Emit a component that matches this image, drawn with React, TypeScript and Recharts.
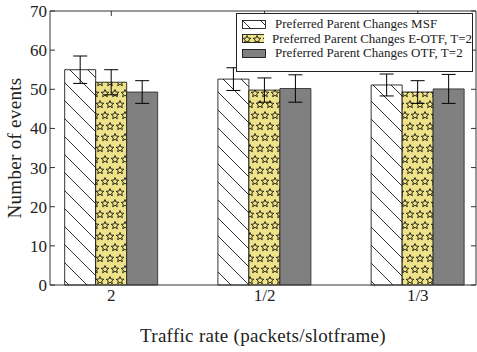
import { BarChart, Bar, XAxis, YAxis, ErrorBar } from 'recharts'

const categories = ['2', '1/2', '1/3']
const positions = [1, 2, 3]
const msf = [55.0, 52.6, 51.1]
const msfErr = [3.5, 2.9, 2.8]
const eotf = [51.8, 49.8, 49.3]
const eotfErr = [3.2, 3.1, 2.9]
const otf = [49.3, 50.2, 50.1]
const otfErr = [2.9, 3.5, 3.7]
const yTicks = [0, 10, 20, 30, 40, 50, 60, 70]

const seriesNames = [
    'Preferred Parent Changes MSF',
    'Preferred Parent Changes E-OTF, T=2',
    'Preferred Parent Changes OTF, T=2',
]
const fills = ['url(#hatch)', 'url(#stars)', '#808080']

const data = positions.map((x, i) => ({
    x,
    msf: msf[i],
    msfErr: msfErr[i],
    eotf: eotf[i],
    eotfErr: eotfErr[i],
    otf: otf[i],
    otfErr: otfErr[i],
}))

const FONT = '"Liberation Serif", "DejaVu Serif", serif'
const AXIS = '#333'
const TEXT = '#222'
const X_DOMAIN: [number, number] = [0.6, 3.38]
const TICK_SIZE = 6
const TICK_MARGIN = 3
const TICK_LEN = 5
const noLabel = () => <g />

// left axis label + a short tick pointing into the plot
const LeftTick = (props: any) => {
    const { x, y, payload } = props
    const axisX = x + TICK_SIZE + TICK_MARGIN
    return (
        <g>
            <line x1={axisX} x2={axisX + TICK_LEN} y1={y} y2={y} stroke={AXIS} />
            <text x={axisX - TICK_MARGIN} y={y} dy={6} textAnchor="end" fontSize={17} fill={TEXT} fontFamily={FONT}>
                {payload.value}
            </text>
        </g>
    )
}

const starPath = (cx: number, cy: number, r: number) => {
    const pts: string[] = []
    for (let k = 0; k < 10; k++) {
        const rr = k % 2 === 0 ? r : r * 0.45
        const a = -Math.PI / 2 + (k * Math.PI) / 5
        pts.push(`${(cx + rr * Math.cos(a)).toFixed(2)},${(cy + rr * Math.sin(a)).toFixed(2)}`)
    }
    return 'M' + pts.join('L') + 'Z'
}

const Patterns = () => (
    <defs>
        <pattern id="hatch" patternUnits="userSpaceOnUse" width="18" height="18">
            <rect width="18" height="18" fill="#fff" />
            <path d="M-1,-1 L19,19 M-1,17 L1,19 M17,-1 L19,1" stroke="#000" strokeWidth="0.8" />
        </pattern>
        <pattern id="stars" patternUnits="userSpaceOnUse" width="10" height="22">
            <rect width="10" height="22" fill="#eee38a" />
            <path d={starPath(5, 5.5, 4)} fill="none" stroke="#000" strokeWidth="0.8" />
            <path d={starPath(0, 16.5, 4)} fill="none" stroke="#000" strokeWidth="0.8" />
            <path d={starPath(10, 16.5, 4)} fill="none" stroke="#000" strokeWidth="0.8" />
        </pattern>
    </defs>
)

const LegendBox = () => (
    <div
        style={{
            position: 'absolute',
            left: 236,
            top: 13,
            width: 237,
            height: 59,
            boxSizing: 'border-box',
            border: '1px solid #222',
            background: '#fff',
            paddingTop: 3,
            fontFamily: FONT,
            fontSize: 13,
            color: TEXT,
        }}
    >
        {seriesNames.map((name, i) => (
            <div key={name} style={{ display: 'flex', alignItems: 'center', height: 14.5, paddingLeft: 5, whiteSpace: 'nowrap' }}>
                <svg width={25} height={9} style={{ marginRight: 8 }}>
                    <rect x={0.5} y={0.5} width={23} height={8} fill={fills[i]} stroke="#000" strokeWidth={0.8} />
                </svg>
                <span>{name}</span>
            </div>
        ))}
    </div>
)

export default function App() {
    return (
        <div style={{ position: 'fixed', left: 0, top: 0, width: 477, height: 352, background: '#fff' }}>
            <BarChart
                width={477}
                height={352}
                data={data}
                margin={{ top: 11, right: 1, bottom: 0, left: 0 }}
                barGap={0}
                barSize={31}
            >
                <Patterns />
                <XAxis
                    xAxisId="main"
                    dataKey="x"
                    type="number"
                    domain={X_DOMAIN}
                    ticks={positions}
                    tickFormatter={(v: number) => categories[positions.indexOf(v)] ?? ''}
                    height={67}
                    stroke={AXIS}
                    tickLine={false}
                    tickSize={0}
                    tickMargin={4}
                    tick={{ fontSize: 17, fill: TEXT, fontFamily: FONT }}
                    allowDataOverflow
                    label={{
                        value: 'Traffic rate (packets/slotframe)',
                        position: 'insideBottom',
                        offset: 10,
                        style: { fontSize: 19, fill: TEXT, fontFamily: FONT, letterSpacing: 0.3 },
                    }}
                />
                <XAxis
                    xAxisId="top"
                    dataKey="x"
                    type="number"
                    orientation="top"
                    mirror
                    height={1}
                    domain={X_DOMAIN}
                    ticks={positions}
                    tick={noLabel}
                    tickSize={TICK_LEN}
                    stroke={AXIS}
                    allowDataOverflow
                />
                <YAxis
                    yAxisId="main"
                    domain={[0, 70]}
                    ticks={yTicks}
                    width={50}
                    stroke={AXIS}
                    tickLine={false}
                    tickSize={TICK_SIZE}
                    tickMargin={TICK_MARGIN}
                    tick={LeftTick}
                    label={{
                        value: 'Number of events',
                        angle: -90,
                        position: 'insideLeft',
                        offset: 14,
                        style: { textAnchor: 'middle', fontSize: 19, fill: TEXT, fontFamily: FONT, letterSpacing: 0.3 },
                    }}
                />
                <YAxis
                    yAxisId="right"
                    orientation="right"
                    mirror
                    width={1}
                    domain={[0, 70]}
                    ticks={yTicks}
                    tick={noLabel}
                    tickSize={TICK_LEN}
                    stroke={AXIS}
                />
                <Bar xAxisId="main" yAxisId="main" dataKey="msf" fill={fills[0]} stroke="#000" strokeWidth={0.8} isAnimationActive={false}>
                    <ErrorBar dataKey="msfErr" width={7} stroke="#000" strokeWidth={1} direction="y" />
                </Bar>
                <Bar xAxisId="main" yAxisId="main" dataKey="eotf" fill={fills[1]} stroke="#000" strokeWidth={0.8} isAnimationActive={false}>
                    <ErrorBar dataKey="eotfErr" width={7} stroke="#000" strokeWidth={1} direction="y" />
                </Bar>
                <Bar xAxisId="main" yAxisId="main" dataKey="otf" fill={fills[2]} stroke="#222" strokeWidth={0.8} isAnimationActive={false}>
                    <ErrorBar dataKey="otfErr" width={7} stroke="#000" strokeWidth={1} direction="y" />
                </Bar>
                {/* invisible series so the frame axes (top / right) get their ticks */}
                <Bar
                    xAxisId="top"
                    yAxisId="right"
                    dataKey="otf"
                    fill="none"
                    stroke="none"
                    barSize={0}
                    legendType="none"
                    isAnimationActive={false}
                />
            </BarChart>
            <LegendBox />
        </div>
    )
}
